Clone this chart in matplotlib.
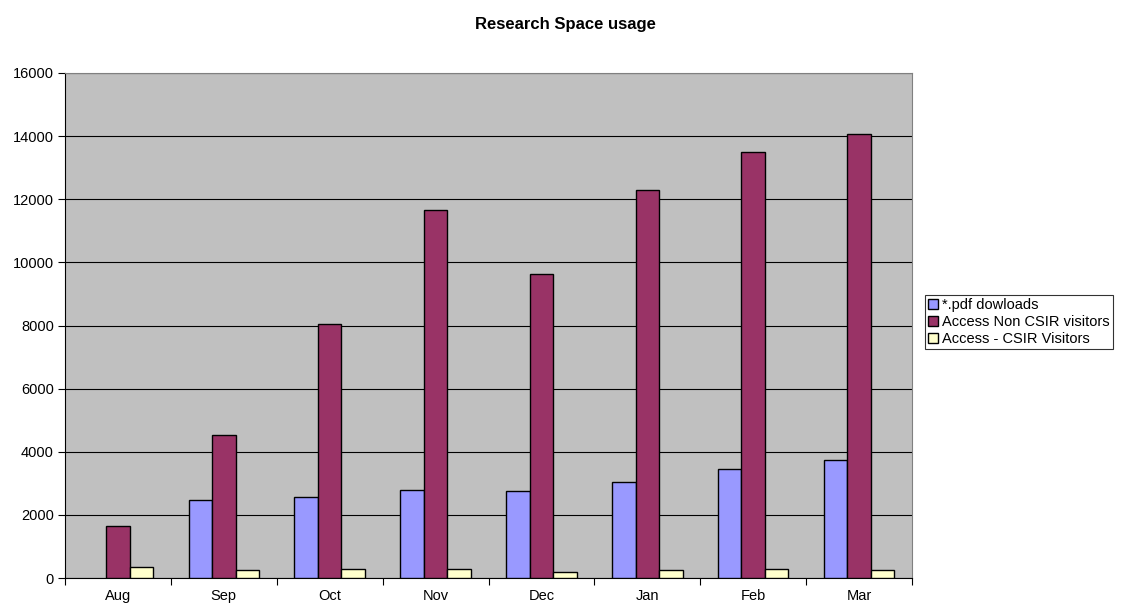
import numpy as np
import matplotlib
matplotlib.use("Agg")
import matplotlib.pyplot as plt

plt.rcParams['font.family'] = ['Liberation Sans', 'DejaVu Sans']

months = ['Aug', 'Sep', 'Oct', 'Nov', 'Dec', 'Jan', 'Feb', 'Mar']
pdf_downloads = [0, 2470, 2570, 2790, 2760, 3040, 3450, 3740]
non_csir = [1650, 4530, 8050, 11660, 9630, 12290, 13500, 14070]
csir = [350, 250, 285, 285, 190, 250, 285, 250]
series_names = ['*.pdf dowloads', 'Access Non CSIR visitors', 'Access - CSIR Visitors']
colors = ['#9999ff', '#993366', '#ffffcc']

fig = plt.figure(figsize=(11.23, 6.04), dpi=100)
ax = fig.add_axes([65 / 1123, 26 / 604, 847 / 1123, 505 / 604])
ax.set_facecolor('#c0c0c0')

x = np.arange(len(months))
w = 1 / 4.5
for i, (vals, name, c) in enumerate(zip([pdf_downloads, non_csir, csir], series_names, colors)):
    vals = np.array(vals, dtype=float)
    ax.bar(x + (i - 1) * w, np.where(vals > 0, vals, np.nan), w, color=c,
           edgecolor='black', linewidth=1, label=name, zorder=3)

ax.set_xlim(-0.5, len(months) - 0.5)
ax.set_ylim(0, 16000)
ax.set_yticks(np.arange(0, 16001, 2000))
ax.yaxis.grid(True, color='black', linewidth=0.8, zorder=1)
ax.set_axisbelow(True)

ax.set_xticks(x)
ax.set_xticklabels(months)
ax.set_xticks(np.arange(-0.5, len(months)), minor=True)
ax.tick_params(axis='x', which='major', length=0, pad=8, labelsize=10.5)
ax.tick_params(axis='x', which='minor', length=5, width=0.8, direction='out')
ax.tick_params(axis='y', length=5, width=0.8, direction='out', labelsize=10.5, pad=3)

for s in ['top', 'right']:
    ax.spines[s].set_color('#808080')
    ax.spines[s].set_linewidth(0.8)
for s in ['left', 'bottom']:
    ax.spines[s].set_color('black')
    ax.spines[s].set_linewidth(0.8)

fig.text(565 / 1123, 1 - 25 / 604, 'Research Space usage', ha='center', va='center',
         fontsize=12, fontweight='bold')

leg = fig.legend(loc='upper left', bbox_to_anchor=(925 / 1123, 1 - 295 / 604),
                 fontsize=10.5, frameon=True, fancybox=False, edgecolor='black',
                 handlelength=0.7, handleheight=0.7, handletextpad=0.3,
                 borderpad=0.2, labelspacing=0.2, borderaxespad=0)
leg.get_frame().set_linewidth(0.8)

fig.savefig('out.png', dpi=100)
